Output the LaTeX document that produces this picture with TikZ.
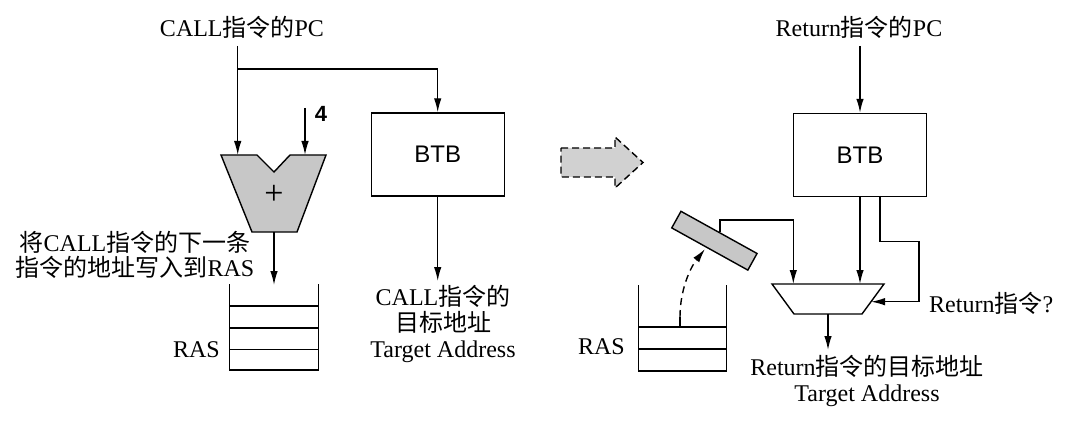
\documentclass[tikz,border=0pt]{standalone}
\usepackage{fontspec}
\setmainfont{Liberation Serif}
\setsansfont{Liberation Sans}
\newfontfamily\cjk{Noto Sans CJK SC}
\usetikzlibrary{arrows.meta,calc}
\newcommand{\zh}[1]{{\cjk #1}}
\begin{document}
\begin{tikzpicture}[x=1pt,y=-1pt,
  ln/.style={line width=1.4pt},
  arr/.style={ln,-{Latex[length=14pt,width=7.5pt]}},
  btbbox/.style={draw,line width=1.4pt,minimum width=133pt,minimum height=83pt,inner sep=0pt,font=\sffamily\fontsize{24}{24}\selectfont},
  lbl/.style={font=\fontsize{24}{26}\selectfont,inner sep=0pt,align=center},
  grayfill/.style={fill=black!22},
]
\useasboundingbox (0,0) rectangle (1078,422);

% ---------------- left part ----------------
\node[lbl] (callpc) at (242,27) {CALL\zh{指令的}PC};
\node[btbbox] (btbL) at (437.7,154.5) {BTB};

% adder
\coordinate (a1) at (221,155);
\coordinate (a2) at (257,155);
\coordinate (a3) at (274,172);
\coordinate (a4) at (290,155);
\coordinate (a5) at (326,155);
\coordinate (a6) at (297,232);
\coordinate (a7) at (252,232);
\draw[ln,grayfill,line join=miter] (a1)--(a2)--(a3)--(a4)--(a5)--(a6)--(a7)--cycle;
\node[font=\fontsize{34}{34}\selectfont,inner sep=0pt] (plus) at (274,195) {+};

\coordinate (pcL) at (237.7,46);
\coordinate (brL) at (237.7,69);
\coordinate (inL) at (237.7,155);
\draw[arr] (pcL) -- (inL);
\draw[arr] (brL) -| (btbL.north);

\coordinate (four0) at (305,108);
\coordinate (four1) at (305,155);
\draw[arr] (four0) -- (four1);
\node[font=\sffamily\bfseries\fontsize{22}{22}\selectfont,inner sep=0pt] (four) at (321,114) {4};

% RAS left
\coordinate (r1) at (229.3,284);
\coordinate (r2) at (318.3,284);
\draw[ln] (r1) -- (229.3,370) -- (318.3,370) -- (r2);
\draw[ln] (229.3,306) -- (318.3,306);
\draw[ln] (229.3,328) -- (318.3,328);
\draw[ln] (229.3,349.3) -- (318.3,349.3);
\node[lbl,anchor=east] (rasL) at (220,350) {RAS};

\coordinate (addout) at (274,232);
\coordinate (rasin) at (274,285);
\draw[arr] (addout) -- (rasin);
\node[lbl,font=\fontsize{24}{24.5}\selectfont] (writetxt) at (135,255) {\zh{将}CALL\zh{指令的下一条}\\\zh{指令的地址写入到}RAS};

\coordinate (btbLout) at (437.7,281);
\draw[arr] (btbL.south) -- (btbLout);
\node[lbl,anchor=north] (ctarget) at (443,285) {CALL\zh{指令的}\\\zh{目标地址}\\Target Address};

% ---------------- big dashed arrow ----------------
\draw[line width=1.4pt,dash pattern=on 7pt off 4pt,fill=black!18] (561,148) -- (615,148) -- (615,137) -- (643,162.5) -- (615,188) -- (615,177) -- (561,177) -- cycle;

% ---------------- right part ----------------
\node[lbl] (retpc) at (859,27) {Return\zh{指令的}PC};
\node[btbbox] (btbR) at (860,155) {BTB};
\coordinate (pcR) at (860,46);
\draw[arr] (pcR) -- (btbR.north);

% mux
\coordinate (m1) at (772,284);
\coordinate (m2) at (884,284);
\coordinate (m3) at (862,314);
\coordinate (m4) at (794,314);
\draw[ln,fill=white] (m1)--(m2)--(m3)--(m4)--cycle;

\coordinate (muxin2) at (860,284);
\draw[arr] (btbR.south) -- (muxin2);

\coordinate (sel0) at (880,196);
\coordinate (sel1) at (880,241.7);
\coordinate (sel2) at (919,241.7);
\coordinate (sel3) at (919,301.7);
\coordinate (selin) at (871,301.7);
\draw[arr] (sel0) -- (sel1) -- (sel2) -- (sel3) -- (selin);
\node[lbl,anchor=west] (retq) at (929,303) {Return\zh{指令}?};

% tilted register
\node[draw,line width=1.4pt,grayfill,minimum width=87pt,minimum height=19pt,inner sep=0pt,rotate=-29] (reg) at (714.4,240.7) {};
\coordinate (regout) at (720,232);
\coordinate (rr1) at (720,220);
\coordinate (rr2) at (793.3,220);
\coordinate (muxin1) at (793.3,284);
\draw[arr] (regout) -- (rr1) -- (rr2) -- (muxin1);

% RAS right
\draw[ln] (638.3,285) -- (638.3,371) -- (726.7,371) -- (726.7,285);
\draw[ln] (638.3,327) -- (726.7,327);
\draw[ln] (638.3,349) -- (726.7,349);
\node[lbl,anchor=east] (rasR) at (625,347) {RAS};

\coordinate (pop0) at (680,327);
\coordinate (pop1) at (680,317);
\coordinate (pop2) at (705,249);
\draw[ln] (pop0) -- (pop1);
\draw[arr,dash pattern=on 7pt off 5pt] (pop1) .. controls (680,290) and (690,268) .. (pop2);

\coordinate (muxout) at (828,314);
\coordinate (muxout1) at (828,350);
\draw[arr] (muxout) -- (muxout1);
\node[lbl,anchor=north] (rtarget) at (867,355) {Return\zh{指令的目标地址}\\Target Address};

\end{tikzpicture}
\end{document}
